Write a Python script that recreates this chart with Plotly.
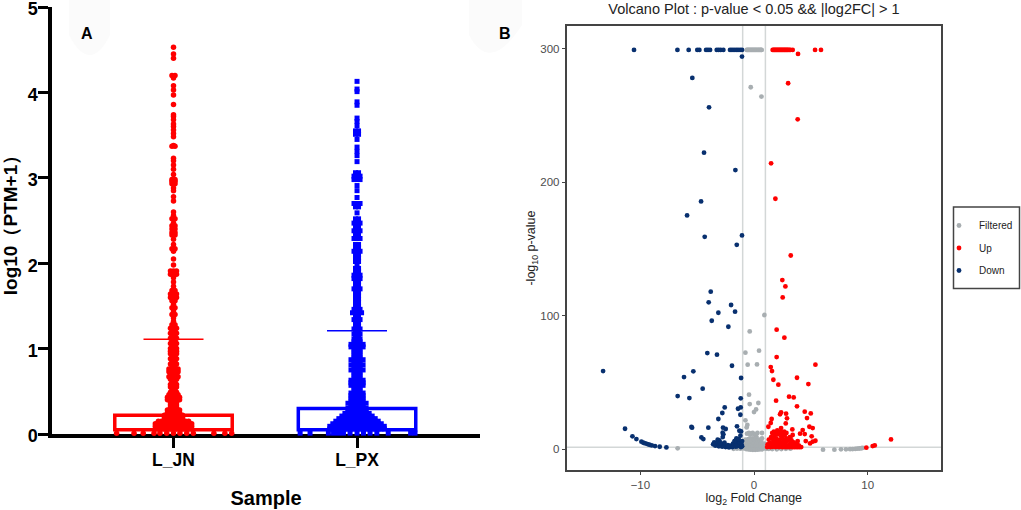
import plotly.graph_objects as go

#########################
# Panel A : scatter bars
#########################
samples = ['L_JN', 'L_PX']
bar_tops = [0.22, 0.30]
bar_base = [0.05, 0.05]
bar_err = [0.89, 0.91]

# sparse row of points lying on the axis, x position inside each bar
jn_row_x = [-0.31, -0.215, -0.165, -0.106, -0.074, -0.037, 0.0, 0.035, 0.072, 0.108, 0.22, 0.28, 0.317]
px_row_x = [-0.31, -0.256, -0.156, -0.128, -0.101, -0.074, -0.038, 0.0, 0.035, 0.071, 0.108, 0.17, 0.292, 0.316]
row_y = 0.01

# value level / how many points sit side by side at that level
jn_levels = [0.06, 0.09, 0.12, 0.15, 0.19, 0.22, 0.25, 0.28, 0.31, 0.34, 0.37, 0.40, 0.43, 0.46, 0.49,
             0.52, 0.55, 0.58, 0.61, 0.64, 0.67, 0.70, 0.73, 0.76, 0.79, 0.82, 0.85, 0.88, 0.91, 0.94, 0.97,
             1.00, 1.03, 1.06, 1.09, 1.12, 1.15, 1.18, 1.21, 1.24, 1.28, 1.32, 1.36, 1.40, 1.44, 1.48, 1.52,
             1.56, 1.60, 1.64, 1.68, 1.73, 1.78, 1.83, 1.87, 1.91, 1.98, 2.05, 2.14, 2.17, 2.22, 2.28, 2.33,
             2.36, 2.40, 2.44, 2.47, 2.52, 2.56, 2.60, 2.73, 2.78, 2.85, 2.88, 2.93, 2.96, 2.98, 3.04, 3.10,
             3.15, 3.20, 3.23, 3.37, 3.38, 3.48, 3.52, 3.56, 3.60, 3.63, 3.68, 3.72, 3.74, 3.86, 3.97, 4.03,
             4.08, 4.17, 4.20, 4.40, 4.45, 4.53]
jn_counts = [13, 13, 13, 11, 7, 7, 5, 5, 3, 3, 3, 5, 5, 4, 3,
             2, 3, 3, 2, 3, 4, 3, 4, 4, 2, 3, 2, 3, 2, 3, 3,
             3, 2, 3, 2, 3, 2, 3, 2, 3, 2, 1, 1, 2, 1, 2, 1,
             2, 3, 3, 2, 1, 1, 1, 3, 3, 1, 1, 1, 2, 1, 1, 2,
             2, 2, 2, 1, 2, 1, 1, 1, 1, 1, 1, 2, 2, 2, 1, 1,
             1, 1, 1, 2, 1, 1, 1, 1, 1, 1, 1, 1, 1, 1, 1, 1,
             1, 1, 2, 1, 1, 1]

px_levels = [0.06, 0.09, 0.12, 0.15, 0.18, 0.21, 0.24, 0.27, 0.30, 0.33, 0.36, 0.39, 0.42, 0.45, 0.48,
             0.51, 0.54, 0.57, 0.60, 0.63, 0.66, 0.69, 0.72, 0.75, 0.78, 0.81, 0.84, 0.87, 0.90, 0.93, 0.96,
             0.99, 1.02, 1.05, 1.08, 1.11, 1.14, 1.17, 1.20, 1.23, 1.26, 1.30, 1.34, 1.38, 1.42, 1.46, 1.50,
             1.54, 1.58, 1.62, 1.66, 1.70, 1.74, 1.78, 1.82, 1.86, 1.90, 1.94, 1.98, 2.02, 2.06, 2.10, 2.14,
             2.18, 2.22, 2.29, 2.33, 2.38, 2.42, 2.47, 2.52, 2.59, 2.66, 2.70, 2.77, 2.85, 2.91, 2.98,
             3.02, 3.06, 3.19, 3.26, 3.31, 3.36, 3.45, 3.51, 3.55, 3.61, 3.66, 3.70, 3.85, 3.89, 4.01, 4.04,
             4.13]
px_counts = [19, 19, 17, 15, 13, 11, 9, 7, 7, 5, 7, 5, 5, 5, 5,
             3, 3, 5, 5, 5, 3, 3, 3, 5, 3, 5, 3, 5, 3, 3, 3,
             3, 5, 5, 3, 3, 2, 3, 2, 3, 2, 2, 3, 2, 4, 3, 2,
             2, 2, 2, 2, 3, 2, 2, 3, 3, 2, 2, 1, 2, 2, 2, 3,
             2, 2, 3, 2, 3, 2, 3, 2, 1, 2, 3, 1, 1, 1, 3,
             3, 2, 1, 1, 1, 1, 1, 2, 2, 1, 1, 1, 1, 1, 1, 1,
             1]

#########################
# Panel B : volcano
#########################
filt_x = [-0.65, -0.58, -0.5, -0.42, -0.34, -0.26, -0.18, -0.1, -0.02, 0.06, 0.14, 0.22, 0.3, 0.38, 0.46, 0.54, 0.62, 0.67,
          -0.29, 0.65, 0.91, -0.38, -0.76, 0.44, -0.56, 0.26, -0.44, -0.38, 0.38, 0.18, 0.0, -0.76, -0.59, -0.65,
          -0.62, -0.45, -0.35, -0.25, -0.12, 0.02, 0.12, 0.22, 0.3, 0.7,
          -0.85, -0.75, -0.66, -0.58, -0.5, -0.42, -0.35, -0.28, -0.2, -0.12, -0.05, 0.02, 0.1, 0.17, 0.25, 0.33, 0.4, 0.48, 0.55, 0.63, 0.7, 0.8, 0.9,
          -0.8, -0.68, -0.55, -0.42, -0.3, -0.18, -0.06, 0.06, 0.18, 0.3, 0.42, 0.55, 0.68, 0.82, 0.95, 1.1, 1.3, 1.6, 2.0, 2.4, 2.8, 3.2,
          -0.7, -0.5, -0.3, -0.1, 0.1, 0.3, 0.5, 0.7,
          -6.72, 6.07, 7.07, 7.65, 8.09, 8.45, 8.68, 8.91, 9.09, 9.27, 9.44, 9.56,
          -1.8, -1.5, -1.2, -0.95]
filt_y = [299, 299, 299, 299, 299, 299, 299, 299, 299, 299, 299, 299, 299, 299, 299, 299, 299, 299,
          271, 264, 100.4, 88.1, 72.2, 73.7, 63.2, 63.4, 40.7, 33.7, 34.5, 29.7, 27.7, 21.5, 18, 16.2,
          11.5, 12, 11, 11.5, 12, 11, 10.5, 9, 12, 12,
          4.5, 7, 6, 3.5, 7.5, 5, 8, 3.5, 6.5, 8, 4.5, 7, 5, 8, 4, 6.5, 5, 7, 3.5, 6, 8, 3, 4,
          1.5, 1, 2, 1, 2.5, 1.5, 2, 1, 2.5, 1.5, 2, 1, 1.5, 1, 0.5, 0.3, 0.2, 0, -0.2, 0, 0.2, 0.3,
          0, -0.3, -0.5, -0.6, -0.6, -0.5, -0.3, -0.2,
          0.5, -0.5, -0.5, -0.2, -0.2, -0.1, 0, 0.1, 0.3, 0.4, 0.6, 0.8,
          0.2, 0.4, 0.3, 0.6]

up_x = [1.64, 1.72, 1.8, 1.88, 1.96, 2.04, 2.12, 2.2, 2.28, 2.36, 2.44, 2.52, 2.6, 2.68, 2.76, 2.84, 2.92, 3.0, 3.1, 3.2, 3.4,
        3.87, 5.37, 5.89, 3.0, 3.84, 1.5, 1.88, 3.23, 2.49, 2.76, 2.52, 1.99, 2.67, 1.99, 5.4, 1.47, 1.58, 1.7, 3.78, 2.14, 4.78,
        3.08, 3.49, 1.94, 3.78, 4.46, 4.99, 2.38, 2.29, 2.82, 2.9, 4.66, 1.55, 1.47, 2.79, 2.38, 1.26, 4.87, 5.16, 3.37, 4.28,
        4.05, 4.46, 5.07, 3.4, 5.4, 5.16, 4.93, 4.55, 3.84, 12.05, 10.62, 10.44, 9.88,
        1.15, 1.3, 1.45, 1.6, 1.75, 1.9, 2.05, 2.2, 2.35, 2.5, 2.65, 2.8, 2.95, 3.1, 3.25, 3.4, 3.55, 3.7, 3.85, 4.0, 4.15,
        1.2, 1.4, 1.55, 1.7, 1.85, 2.0, 2.15, 2.3, 2.45, 2.6, 2.75, 2.9, 3.05, 3.2, 3.35, 3.5, 3.65, 3.8, 3.95,
        1.3, 1.5, 1.65, 1.8, 1.95, 2.1, 2.25, 2.4, 2.55, 2.7, 2.85, 3.0, 3.15, 3.3,
        1.6, 1.75, 1.9, 2.05, 2.2, 2.35, 2.5, 2.65, 2.85, 3.2]
up_y = [299, 299, 299, 299, 299, 299, 299, 299, 299, 299, 299, 299, 299, 299, 299, 299, 299, 299, 299, 299, 299,
        296, 299, 299, 274, 247, 214, 187.5, 145, 126.6, 121.8, 113.6, 89.4, 83.4, 68.9, 63.2, 61.4, 58.4, 51.9, 53.4, 48.2, 48.7,
        39.2, 38.7, 36.2, 32, 28, 26.7, 27.5, 26, 26.5, 23, 23.2, 22.5, 19.5, 19.2, 15.7, 16.7, 16.7, 15.7, 14.7, 14.2,
        11.5, 11.2, 9.5, 10.5, 6.2, 5.5, 4.2, 6, 6, 7.2, 2.7, 2.2, 1,
        1.5, 1.8, 1.5, 1.6, 2, 1.5, 1.8, 1.5, 1.8, 1.4, 1.7, 1.4, 1.6, 1.4, 1.6, 1.4, 1.5, 1.4, 1.5, 1.4, 1.5,
        3.5, 4.5, 3, 5.5, 4, 6, 3.5, 5, 3, 5.5, 4, 6, 3, 4.5, 3.5, 5, 3, 4, 2.5,
        7, 9, 7.5, 10, 8, 11, 7, 9.5, 7.5, 10.5, 8, 7, 9, 6.5,
        12, 13, 11.5, 14, 12.5, 13, 11, 13, 12, 8.5]

down_x = [-10.56, -6.74, -5.75, -4.99, -4.81, -4.22, -4.05, -3.87, -3.28, -3.11, -2.93, -2.7, -2.11, -1.94, -1.76, -1.58, -1.41, -1.23, -1.06,
          -1.06, -5.43, -3.96, -4.4, -1.64, -4.66, -5.89, -1.06, -4.34, -1.52,
          -13.28, -3.81, -3.99, -2.02, -1.67, -3.14, -3.72, -2.26, -4.11, -3.26, -1.94, -5.34, -6.16, -1.14, -4.52, -6.72, -5.69, -1.17,
          -2.58, -1.17, -1.41, -2.79, -1.2, -3.14, -5.51, -5.45, -4.02, -2.73, -2.49, -1.5, -1.29, -1.14, -2.76, -4.63, -4.46,
          -11.35, -10.7, -10.35, -9.91, -9.74, -9.56, -9.38, -9.21, -9.0, -8.71, -8.3, -7.71,
          -3.6, -3.4, -3.25, -3.1, -2.95, -2.8, -2.65, -2.5, -2.35, -2.2, -2.05, -1.9, -1.75, -1.6, -1.45, -1.3, -1.15, -1.05,
          -3.5, -3.2, -3.05, -2.9, -2.6, -2.3, -1.85, -1.7, -1.55, -1.4, -1.25, -1.1,
          -3.2, -3.0, -2.75, -2.7, -1.7, -1.55, -1.35, -1.2, -1.05]
down_y = [299, 299, 299, 299, 299, 299, 299, 299, 299, 299, 299, 299, 299, 299, 299, 299, 299, 299, 299,
          294, 278, 256, 222, 209, 185.5, 175, 160, 159, 153,
          58.4, 117.9, 109.9, 107.9, 102.9, 102.1, 96.1, 91.6, 71.9, 70.7, 62.4, 58.2, 53.9, 53.2, 45.2, 39.7, 38.2, 38,
          31.2, 31.2, 30.2, 27, 25.7, 22.5, 16.5, 16, 16, 16, 15, 17, 13.7, 13.2, 12.2, 8.7, 7.5,
          15.2, 9.5, 7.5, 5.5, 4.7, 4.2, 3.7, 3.2, 2.7, 2.2, 1.7, 1.2,
          3.5, 2.5, 4, 2, 3, 1.8, 2.5, 1.5, 1.8, 1.2, 2.5, 1.5, 3, 1.8, 2.2, 3, 1.5, 2,
          5, 5.5, 6.5, 4.2, 4.8, 3, 4, 6, 3.5, 5.5, 4.5, 3.5,
          7, 4.5, 9, 11, 6, 8, 7.5, 10, 6]

RED = '#ff0000'
BLUE = '#0000ff'
NAVY = '#08306f'
GREY = '#a8aeb1'

# side by side placing for panel A, step is in x axis units
STEP = 0.0165
def swarm(center, levels, counts):
    xs, ys = [], []
    for v, n in zip(levels, counts):
        for i in range(n):
            xs.append(center + (i - (n - 1) / 2) * STEP)
            ys.append(v)
    return xs, ys

fig = go.Figure()

fig.add_trace(go.Bar(
    x=[0, 1], y=[bar_tops[0] - bar_base[0], bar_tops[1] - bar_base[1]], base=bar_base, width=0.64, showlegend=False,
    marker=dict(color=['rgba(0,0,0,0)', 'rgba(0,0,0,0)'], line=dict(color=[RED, BLUE], width=3.5)),
    xaxis='x', yaxis='y'))

for c, top, err, col in [(0, bar_tops[0], bar_err[0], RED), (1, bar_tops[1], bar_err[1], BLUE)]:
    fig.add_trace(go.Scatter(
        x=[c], y=[top], mode='markers', showlegend=False, marker=dict(size=1, color=col),
        error_y=dict(type='data', array=[err], arrayminus=[0], color=col, thickness=1.5, width=30),
        xaxis='x', yaxis='y'))

jx, jy = swarm(0, jn_levels, jn_counts)
jx = jx + jn_row_x
jy = jy + [row_y] * len(jn_row_x)
fig.add_trace(go.Scatter(x=jx, y=jy, mode='markers', showlegend=False, cliponaxis=False,
                         marker=dict(color=RED, size=5.5, symbol='circle'), xaxis='x', yaxis='y'))
bx, by = swarm(1, px_levels, px_counts)
bx = [v for v in bx] + [1 + v for v in px_row_x]
by = by + [row_y] * len(px_row_x)
fig.add_trace(go.Scatter(x=bx, y=by, mode='markers', showlegend=False, cliponaxis=False,
                         marker=dict(color=BLUE, size=5, symbol='square'), xaxis='x', yaxis='y'))

for name, xs, ys, col in [('Filtered', filt_x, filt_y, GREY), ('Up', up_x, up_y, RED), ('Down', down_x, down_y, NAVY)]:
    fig.add_trace(go.Scatter(x=xs, y=ys, mode='markers', name=name, legendgroup=name,
                             marker=dict(color=col, size=4.8), xaxis='x2', yaxis='y2'))

fig.update_layout(
    width=1021, height=510,
    margin=dict(l=0, r=0, t=0, b=0, autoexpand=False),
    paper_bgcolor='white', plot_bgcolor='white',
    font=dict(family='Liberation Sans', color='black'),
    title=dict(text='Volcano Plot : p-value < 0.05 && |log2FC| > 1', x=754/1021, xanchor='center',
               y=1-9/510, yanchor='middle', font=dict(size=14.5, color='#222222')),
    xaxis=dict(domain=[52/1021, 480/1021], range=[-0.662, 1.67], tickvals=[0, 1], ticktext=samples,
               showgrid=False, zeroline=False, showline=True, linecolor='black', linewidth=3.5, automargin=False,
               ticks='outside', ticklen=10, tickwidth=3, tickcolor='black', layer='below traces',
               tickfont=dict(size=17.5, weight=700), ticklabelstandoff=-3,
               title=dict(text='Sample', font=dict(size=20, weight=700), standoff=23)),
    yaxis=dict(domain=[76/510, 503/510], range=[0, 5.001], tickvals=[0, 1, 2, 3, 4, 5],
               showgrid=False, zeroline=False, showline=True, linecolor='black', linewidth=3.5, automargin=False,
               ticks='outside', ticklen=10, tickwidth=3, tickcolor='black', layer='below traces',
               tickfont=dict(size=18, weight=700), ticklabeloverflow='allow', ticklabelstandoff=-3, ticklabelshift=2,
               title=dict(text='log10（PTM+1）', font=dict(size=19, weight=700), standoff=11)),
    xaxis2=dict(domain=[566.5/1021, 941/1021], range=[-16.5, 16.45], tickvals=[-10, 0, 10], anchor='y2',
                showgrid=False, zeroline=False, showline=True, mirror=True, linecolor='#444444', linewidth=1.5,
                ticks='outside', ticklen=3, tickwidth=1, tickcolor='#444444', automargin=False,
                tickfont=dict(size=11.5, color='#4d4d4d'),
                title=dict(text='log<sub>2</sub> Fold Change', font=dict(size=12.5, color='#222222'), standoff=4)),
    yaxis2=dict(domain=[40/510, 484/510], range=[-15.7, 316.9], tickvals=[0, 100, 200, 300], anchor='x2',
                showgrid=False, zeroline=False, showline=True, mirror=True, linecolor='#444444', linewidth=1.5,
                ticks='outside', ticklen=3, tickwidth=1, tickcolor='#444444', automargin=False,
                tickfont=dict(size=11.5, color='#4d4d4d'),
                title=dict(text='-log<sub>10</sub> p-value', font=dict(size=12.5, color='#222222'), standoff=2)),
    legend=dict(x=939/1021, xanchor='left', y=1-211/510, yanchor='top', borderwidth=0,
                bgcolor='rgba(0,0,0,0)', font=dict(size=10, color='#222222'), tracegroupgap=3.5, itemwidth=30),
    annotations=[
        dict(text='<b>A</b>', x=79/1021, y=1-23/510, xref='paper', yref='paper', showarrow=False, font=dict(size=16)),
        dict(text='<b>B</b>', x=505/1021, y=1-23/510, xref='paper', yref='paper', showarrow=False, font=dict(size=16)),
    ],
    shapes=[
        dict(type='line', xref='x2', yref='paper', x0=-1, x1=-1, y0=40/510, y1=484/510,
             line=dict(color='#d3d7d7', width=1.5), layer='below'),
        dict(type='line', xref='x2', yref='paper', x0=1, x1=1, y0=40/510, y1=484/510,
             line=dict(color='#d3d7d7', width=1.5), layer='below'),
        dict(type='line', xref='paper', yref='y2', x0=566.5/1021, x1=941/1021, y0=1.3, y1=1.3,
             line=dict(color='#d3d7d7', width=1.5), layer='below'),
        # legend box
        dict(type='rect', xref='paper', yref='paper', x0=953.5/1021, x1=1019.5/1021, y0=1-288.5/510, y1=1-207/510,
             line=dict(color='#444444', width=1.5), layer='below'),
        # faint halos behind the panel letters
        dict(type='path', xref='paper', yref='paper', layer='below', line=dict(width=0), fillcolor='#fbfbfb',
             path='M %f,1 L %f,%f Q %f,%f %f,%f L %f,1 Z' % (69/1021, 69/1021, 1-35/510, 90/1021, 1-75/510, 110/1021, 1-35/510, 110/1021)),
        dict(type='path', xref='paper', yref='paper', layer='below', line=dict(width=0), fillcolor='#fbfbfb',
             path='M %f,1 L %f,%f Q %f,%f %f,%f L %f,1 Z' % (469/1021, 469/1021, 1-35/510, 490/1021, 1-75/510, 522/1021, 1-25/510, 522/1021)),
    ],
)

fig.write_html("out.html", config={'displayModeBar': False}, post_script="document.body.style.margin='0';")
